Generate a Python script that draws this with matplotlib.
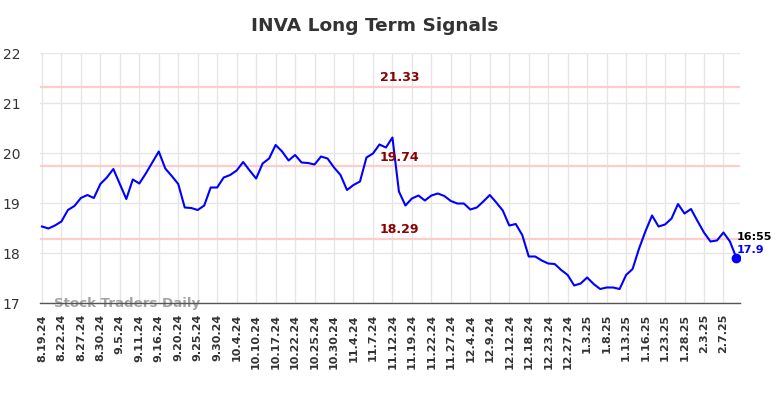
import matplotlib
matplotlib.use("Agg")
import matplotlib.pyplot as plt

title = "INVA Long Term Signals"
tick_labels = ["8.19.24", "8.22.24", "8.27.24", "8.30.24", "9.5.24", "9.11.24", "9.16.24",
               "9.20.24", "9.25.24", "9.30.24", "10.4.24", "10.10.24", "10.17.24", "10.22.24",
               "10.25.24", "10.30.24", "11.4.24", "11.7.24", "11.12.24", "11.19.24", "11.22.24",
               "11.27.24", "12.4.24", "12.9.24", "12.12.24", "12.18.24", "12.23.24", "12.27.24",
               "1.3.25", "1.8.25", "1.13.25", "1.16.25", "1.23.25", "1.28.25", "2.3.25", "2.7.25"]
prices = [18.53, 18.49, 18.55, 18.63, 18.86, 18.94, 19.10, 19.16, 19.10, 19.38,
          19.51, 19.68, 19.38, 19.08, 19.47, 19.39, 19.59, 19.81, 20.03, 19.69,
          19.54, 19.38, 18.91, 18.90, 18.86, 18.95, 19.31, 19.31, 19.51, 19.56,
          19.65, 19.82, 19.65, 19.49, 19.79, 19.89, 20.16, 20.03, 19.85, 19.96,
          19.81, 19.80, 19.77, 19.93, 19.89, 19.71, 19.56, 19.26, 19.36, 19.43,
          19.91, 19.99, 20.17, 20.11, 20.31, 19.23, 18.95, 19.09, 19.15, 19.05,
          19.15, 19.19, 19.14, 19.04, 18.99, 18.99, 18.87, 18.91, 19.03, 19.16,
          19.01, 18.85, 18.55, 18.58, 18.36, 17.93, 17.93, 17.85, 17.79, 17.78,
          17.66, 17.56, 17.35, 17.39, 17.51, 17.38, 17.28, 17.31, 17.31, 17.28,
          17.56, 17.68, 18.09, 18.44, 18.75, 18.53, 18.57, 18.69, 18.98, 18.79,
          18.88, 18.64, 18.41, 18.23, 18.25, 18.41, 18.23, 17.90]
levels = [21.33, 19.74, 18.29]
last_time = "16:55"
last_price = 17.9
tick_step = 3

fig = plt.figure(figsize=(7.84, 3.98), dpi=100)
ax = fig.add_axes([40/784, 1 - 303/398, 700/784, 250/398])

x = list(range(len(prices)))
ax.set_xlim(-0.3, 107.55)
ax.set_ylim(17, 22)

ax.grid(True, color="#e6e6e6", linewidth=1)
ax.set_axisbelow(True)

for lv in levels:
    ax.axhline(lv, color="#ffcccc", linewidth=1.6, zorder=1)
    ax.text(len(prices) / 2 + 1.1, lv + 0.05, f"{lv:.2f}", color="#8b0000",
            fontsize=9, fontweight="bold", ha="center", va="bottom", zorder=4)

ax.plot(x, prices, color="#0000ff", linewidth=1.5, zorder=3)
ax.scatter([x[-1]], [prices[-1]], color="#0000ff", s=36, zorder=5)

ax.text(x[-1], prices[-1] + 0.33, last_time, color="black", fontsize=8,
        fontweight="bold", ha="left", va="bottom", zorder=5)
ax.text(x[-1], prices[-1] + 0.06, f"{last_price}", color="#0000ff", fontsize=8,
        fontweight="bold", ha="left", va="bottom", zorder=5)

ax.set_xticks([i * tick_step for i in range(len(tick_labels))])
ax.set_xticklabels(tick_labels, rotation=90, fontsize=8, fontweight="bold", color="#333333")
ax.set_yticks([17, 18, 19, 20, 21, 22])
ax.tick_params(axis="both", length=0)
ax.tick_params(axis="y", labelsize=10, labelcolor="#333333", pad=14)
ax.tick_params(axis="x", pad=8)

for s in ["top", "right", "left"]:
    ax.spines[s].set_visible(False)
ax.spines["bottom"].set_color("#555555")
ax.spines["bottom"].set_linewidth(1)

ax.text(1.8, 17.0, "Stock Traders Daily", color="#999999", fontsize=9.6,
        fontweight="bold", ha="left", va="center", zorder=2, alpha=0.9)

fig.text(374.5/784, 1 - 26/398, title, ha="center", va="center", fontsize=13.3,
         fontweight="bold", color="#333333")

fig.savefig("out.png", dpi=100)
